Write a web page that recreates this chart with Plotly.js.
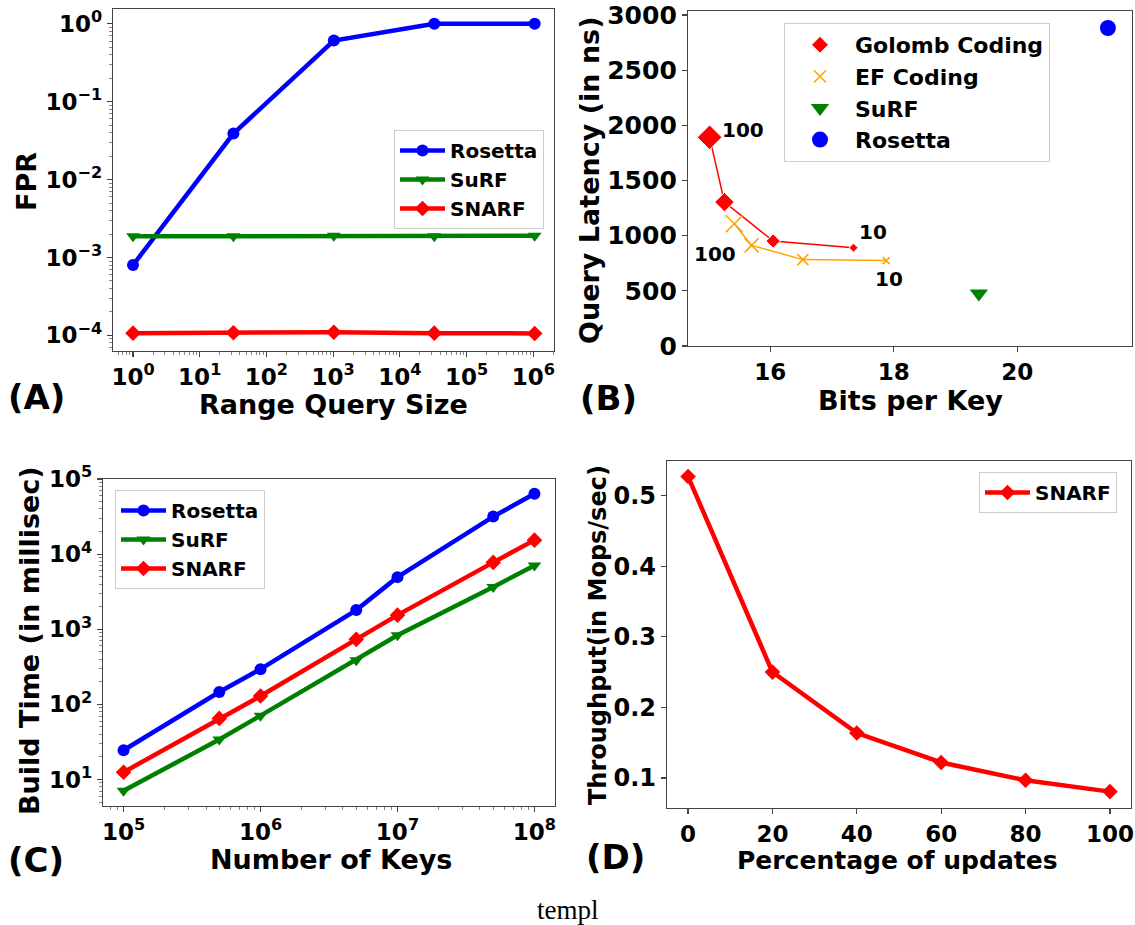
<!DOCTYPE html>
<html><head><meta charset="utf-8">
<script src="https://cdn.plot.ly/plotly-3.0.1.min.js"></script>
<style>html,body{margin:0;padding:0;background:#fff}#chart{width:1135px;height:925px}</style>
</head><body><div id="chart"></div>
<script>
// ---------- Panel A : FPR vs range query size ----------
const rangeSizes   = [1, 32, 1024, 32768, 1048576];
const fprRosetta   = [0.0008, 0.039, 0.61, 1.0, 1.0];
const fprSurf      = [0.00187, 0.00188, 0.0019, 0.00187, 0.0019];
const fprSnarf     = [0.000107, 0.000108, 0.00011, 0.000107, 0.000106];
const rangeTickVals = [1, 10, 100, 1000, 10000, 100000, 1000000];
const rangeTickText = ['10<sup>0</sup>','10<sup>1</sup>','10<sup>2</sup>','10<sup>3</sup>','10<sup>4</sup>','10<sup>5</sup>','10<sup>6</sup>'];
const fprTickVals  = [0.0001, 0.001, 0.01, 0.1, 1];
const fprTickText  = ['10<sup>−4</sup>','10<sup>−3</sup>','10<sup>−2</sup>','10<sup>−1</sup>','10<sup>0</sup>'];

// ---------- Panel B : latency vs bits per key ----------
const golombBits    = [15.02, 15.26, 16.05, 17.35];
const golombLatency = [1891, 1304, 951, 891];
const efBits        = [15.42, 15.70, 16.53, 17.88];
const efLatency     = [1108, 912, 783, 774];
const surfBits      = [19.38];
const surfLatency   = [475];
const rosettaBits   = [21.47];
const rosettaLatency= [2882];
const paramHigh = '100';
const paramLow  = '10';

// ---------- Panel C : build time vs number of keys ----------
const numKeys       = [1e5, 5e5, 1e6, 5e6, 1e7, 5e7, 1e8];
const buildRosetta  = [24.5, 146, 294, 1800, 4940, 31600, 63500];
const buildSurf     = [7.1, 34, 70.8, 387, 830, 3640, 7080];
const buildSnarf    = [12.5, 65, 129, 734, 1540, 7760, 15350];
const keysTickVals  = [1e5, 1e6, 1e7, 1e8];
const keysTickText  = ['10<sup>5</sup>','10<sup>6</sup>','10<sup>7</sup>','10<sup>8</sup>'];
const buildTickVals = [10, 100, 1000, 10000, 100000];
const buildTickText = ['10<sup>1</sup>','10<sup>2</sup>','10<sup>3</sup>','10<sup>4</sup>','10<sup>5</sup>'];

// ---------- Panel D : throughput vs percentage of updates ----------
const updatePct  = [0, 20, 40, 60, 80, 100];
const throughput = [0.527, 0.250, 0.1637, 0.122, 0.0967, 0.0807];

const BLUE='#0000FF', GREEN='#008000', RED='#FF0000', ORANGE='#FFA500';
const FONT='DejaVu Sans';
const tf=s=>({family:FONT,size:s,color:'#000',weight:'bold'});
const legFont=tf(20);
const W=1135,H=925;
const px=v=>v/W, py=v=>1-v/H;

function axisBase(extra){
  return Object.assign({showline:true,mirror:true,linecolor:'#444',linewidth:1.2,
    ticks:'outside',ticklen:5,tickwidth:1.2,tickcolor:'#444',showgrid:false,zeroline:false,
    ticklabeloverflow:'allow',fixedrange:true},extra);
}
const logMinor={ticks:'outside',ticklen:3,tickwidth:0.8,tickcolor:'#666',dtick:'D1',showgrid:false};

const lw=4.5, ms=12;
const traces=[
  // A
  {x:rangeSizes,y:fprRosetta,name:'Rosetta',mode:'lines+markers',xaxis:'x',yaxis:'y',legend:'legend',
   line:{color:BLUE,width:lw},marker:{symbol:'circle',size:ms,color:BLUE}},
  {x:rangeSizes,y:fprSurf,name:'SuRF',mode:'lines+markers',xaxis:'x',yaxis:'y',legend:'legend',
   line:{color:GREEN,width:lw},marker:{symbol:'triangle-down',size:ms,color:GREEN}},
  {x:rangeSizes,y:fprSnarf,name:'SNARF',mode:'lines+markers',xaxis:'x',yaxis:'y',legend:'legend',
   line:{color:RED,width:lw},marker:{symbol:'diamond',size:ms,color:RED}},
  // B lines
  {x:golombBits,y:golombLatency,mode:'lines',xaxis:'x2',yaxis:'y2',showlegend:false,line:{color:RED,width:1.5},hoverinfo:'skip'},
  {x:efBits,y:efLatency,mode:'lines',xaxis:'x2',yaxis:'y2',showlegend:false,line:{color:ORANGE,width:1.5},hoverinfo:'skip'},
  // B markers
  {x:golombBits,y:golombLatency,name:'Golomb Coding',mode:'markers',xaxis:'x2',yaxis:'y2',legend:'legend2',
   marker:{symbol:'diamond',size:[19,15,11,7],color:RED,opacity:1}},
  {x:efBits,y:efLatency,name:'EF Coding',mode:'markers',xaxis:'x2',yaxis:'y2',legend:'legend2',
   marker:{symbol:'x-thin',size:[17,14,11,7],color:ORANGE,opacity:1,line:{color:ORANGE,width:1.6}}},
  {x:surfBits,y:surfLatency,name:'SuRF',mode:'markers',xaxis:'x2',yaxis:'y2',legend:'legend2',
   marker:{symbol:'triangle-down',size:16,color:GREEN}},
  {x:rosettaBits,y:rosettaLatency,name:'Rosetta',mode:'markers',xaxis:'x2',yaxis:'y2',legend:'legend2',
   marker:{symbol:'circle',size:16,color:BLUE}},
  // C
  {x:numKeys,y:buildRosetta,name:'Rosetta',mode:'lines+markers',xaxis:'x3',yaxis:'y3',legend:'legend3',
   line:{color:BLUE,width:lw},marker:{symbol:'circle',size:ms,color:BLUE}},
  {x:numKeys,y:buildSurf,name:'SuRF',mode:'lines+markers',xaxis:'x3',yaxis:'y3',legend:'legend3',
   line:{color:GREEN,width:lw},marker:{symbol:'triangle-down',size:ms,color:GREEN}},
  {x:numKeys,y:buildSnarf,name:'SNARF',mode:'lines+markers',xaxis:'x3',yaxis:'y3',legend:'legend3',
   line:{color:RED,width:lw},marker:{symbol:'diamond',size:ms,color:RED}},
  // D
  {x:updatePct,y:throughput,name:'SNARF',mode:'lines+markers',xaxis:'x4',yaxis:'y4',legend:'legend4',
   line:{color:RED,width:lw},marker:{symbol:'diamond',size:ms,color:RED}}
];

const legBase={bgcolor:'rgba(255,255,255,0.8)',bordercolor:'#cccccc',borderwidth:1,font:legFont,
  yanchor:'top',tracegroupgap:0,itemwidth:45};
const annFont=tf(20);
const panelFont=tf(34);

function axTitle(text,xp,yp,size,vertical){
  return {xref:'paper',yref:'paper',x:px(xp),y:py(yp),xanchor:'center',yanchor:'middle',
    text:text,showarrow:false,textangle:vertical?-90:0,font:tf(size)};
}

const layout={
  width:W,height:H,margin:{l:0,r:0,t:0,b:0},paper_bgcolor:'#fff',plot_bgcolor:'#fff',
  font:{family:FONT,color:'#000',weight:'bold'},
  showlegend:true,
  // A
  xaxis:axisBase({type:'log',domain:[px(113),px(554)],anchor:'y',range:[-0.3,6.31],
    tickmode:'array',tickvals:rangeTickVals,ticktext:rangeTickText,minor:logMinor,tickfont:tf(23)}),
  yaxis:axisBase({type:'log',domain:[py(351),py(9)],anchor:'x',range:[-4.2,0.19],
    tickmode:'array',tickvals:fprTickVals,ticktext:fprTickText,minor:logMinor,tickfont:tf(23)}),
  // B
  xaxis2:axisBase({domain:[px(688),px(1132)],anchor:'y2',range:[14.67,21.86],
    tickmode:'linear',tick0:16,dtick:2,tickfont:tf(23)}),
  yaxis2:axisBase({domain:[py(346),py(11)],anchor:'x2',range:[0,3036],
    tickmode:'linear',tick0:0,dtick:500,tickfont:tf(25)}),
  // C
  xaxis3:axisBase({type:'log',domain:[px(103),px(555)],anchor:'y3',range:[4.85,8.15],
    tickmode:'array',tickvals:keysTickVals,ticktext:keysTickText,minor:logMinor,tickfont:tf(23)}),
  yaxis3:axisBase({type:'log',domain:[py(806),py(479)],anchor:'x3',range:[0.647,5.0],
    tickmode:'array',tickvals:buildTickVals,ticktext:buildTickText,minor:logMinor,tickfont:tf(23)}),
  // D
  xaxis4:axisBase({domain:[px(667),px(1131)],anchor:'y4',range:[-5,105],
    tickmode:'linear',tick0:0,dtick:20,tickfont:tf(23)}),
  yaxis4:axisBase({domain:[py(808),py(461)],anchor:'x4',range:[0.0575,0.549],
    tickmode:'linear',tick0:0.1,dtick:0.1,tickfont:tf(24)}),
  legend: Object.assign({},legBase,{x:px(544),xanchor:'right',y:py(130)}),
  legend2:Object.assign({},legBase,{x:px(1050),xanchor:'right',y:py(23),itemwidth:60,font:tf(22)}),
  legend3:Object.assign({},legBase,{x:px(115),xanchor:'left',y:py(490)}),
  legend4:Object.assign({},legBase,{x:px(1117),xanchor:'right',y:py(472)}),
  annotations:[
    axTitle('Range Query Size',333,405,27,false),
    axTitle('FPR',26,182,27,true),
    axTitle('Bits per Key',910,400,27,false),
    axTitle('Query Latency (in ns)',589,180,27,true),
    axTitle('Number of Keys',331,859,27,false),
    axTitle('Build Time (in millisec)',29,641,27,true),
    axTitle('Percentage of updates',897,860,25,false),
    axTitle('Throughput(in Mops/sec)',598,635,24,true),
    {xref:'x2',yref:'y2',x:golombBits[0],y:golombLatency[0],text:paramHigh,showarrow:false,xshift:33,yshift:7,font:annFont},
    {xref:'x2',yref:'y2',x:golombBits[3],y:golombLatency[3],text:paramLow,showarrow:false,xshift:19,yshift:16,font:annFont},
    {xref:'x2',yref:'y2',x:efBits[0],y:efLatency[0],text:paramHigh,showarrow:false,xshift:-19,yshift:-30,font:annFont},
    {xref:'x2',yref:'y2',x:efBits[3],y:efLatency[3],text:paramLow,showarrow:false,xshift:3,yshift:-18,font:annFont},
    {xref:'paper',yref:'paper',x:px(6),y:py(397),xanchor:'left',yanchor:'middle',text:'(A)',showarrow:false,font:panelFont},
    {xref:'paper',yref:'paper',x:px(578),y:py(398),xanchor:'left',yanchor:'middle',text:'(B)',showarrow:false,font:panelFont},
    {xref:'paper',yref:'paper',x:px(6),y:py(860),xanchor:'left',yanchor:'middle',text:'(C)',showarrow:false,font:panelFont},
    {xref:'paper',yref:'paper',x:px(584),y:py(857),xanchor:'left',yanchor:'middle',text:'(D)',showarrow:false,font:panelFont},
    {xref:'paper',yref:'paper',x:px(568),y:py(910),xanchor:'center',yanchor:'middle',text:'templ',showarrow:false,
     font:{family:'Liberation Serif',size:27,color:'#000',weight:'normal'}}
  ]
};

Plotly.newPlot('chart',traces,layout,{staticPlot:true,displayModeBar:false});
</script>
</body></html>
